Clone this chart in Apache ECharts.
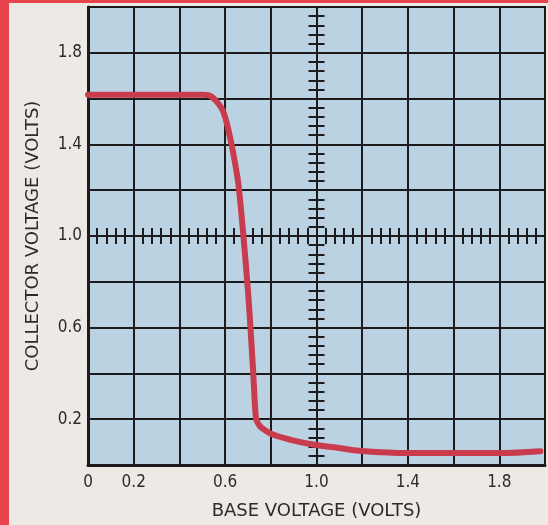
<!DOCTYPE html>
<html>
<head>
<meta charset="utf-8">
<script src="https://cdn.jsdelivr.net/npm/echarts@6/dist/echarts.min.js"></script>
<style>
  html, body { margin: 0; padding: 0; background: #edeae6; }
  #chart { width: 548px; height: 525px; }
</style>
</head>
<body>
<div id="chart"></div>
<script>
// Transfer characteristic: collector voltage versus base voltage
const baseVolts = [0, 0.3, 0.5, 0.53, 0.559, 0.588, 0.603, 0.617, 0.630, 0.646, 0.661, 0.699, 0.722, 0.735, 0.745, 0.757, 0.804, 0.891, 1.0, 1.1, 1.2, 1.4, 1.6, 1.8, 1.98];
const collectorVolts = [1.617, 1.617, 1.617, 1.614, 1.592, 1.552, 1.509, 1.452, 1.391, 1.304, 1.204, 0.774, 0.422, 0.204, 0.180, 0.165, 0.135, 0.109, 0.087, 0.074, 0.061, 0.052, 0.052, 0.052, 0.060];

const xTickLabels = ['0', '0.2', '0.6', '1.0', '1.4', '1.8'];
const yTickLabels = ['0.2', '0.6', '1.0', '1.4', '1.8'];

const ink = '#1c1a1a';
const textColor = '#2e2a2a';
const numFont = "'DejaVu Sans Condensed', 'DejaVu Sans', sans-serif";
const titleFont = "'DejaVu Sans', sans-serif";

function pick(labels) {
  return function (v) {
    const s = v === 0 ? '0' : v.toFixed(1);
    return labels.indexOf(s) >= 0 ? s : '';
  };
}

// Centre cross-hair axes with fine graduations (every 0.04 V), ticks on both sides
function crossAxis(inside, position) {
  return {
    type: 'value', min: -1, max: 1, interval: 0.04, position: position,
    axisLine: { show: true, onZero: true, onZeroAxisIndex: 1, lineStyle: { color: ink, width: 2 } },
    axisTick: { show: true, inside: inside, length: 8, lineStyle: { color: ink, width: 2 } },
    axisLabel: { show: false },
    splitLine: { show: false }
  };
}

const chart = echarts.init(document.getElementById('chart'), null, { renderer: 'canvas' });
chart.setOption({
  backgroundColor: '#edeae6',
  animation: false,
  grid: {
    left: 88, top: 7, right: 1, bottom: 58,
    show: true, backgroundColor: '#bbd2e3', borderColor: ink, borderWidth: 2
  },
  graphic: [
    { type: 'rect', left: 0, top: 0, shape: { width: 9, height: 525 }, style: { fill: '#e9434d' } },
    { type: 'rect', left: 0, top: 0, shape: { width: 548, height: 3 }, style: { fill: '#e9434d' } }
  ],
  xAxis: [
    {
      type: 'value', min: 0, max: 2, interval: 0.2, position: 'bottom',
      name: 'BASE VOLTAGE (VOLTS)', nameLocation: 'middle', nameGap: 37,
      nameTextStyle: { color: textColor, fontFamily: titleFont, fontSize: 18 },
      axisLine: { show: true, onZero: false, lineStyle: { color: ink, width: 3 } },
      axisTick: { show: false },
      axisLabel: { color: textColor, fontFamily: numFont, fontSize: 17, margin: 9, formatter: pick(xTickLabels) },
      splitLine: { show: true, lineStyle: { color: ink, width: 2 } }
    },
    crossAxis(false, 'bottom'),
    crossAxis(true, 'bottom')
  ],
  yAxis: [
    {
      type: 'value', min: 0, max: 2, interval: 0.2, position: 'left',
      name: 'COLLECTOR VOLTAGE (VOLTS)', nameLocation: 'middle', nameGap: 46,
      nameTextStyle: { color: textColor, fontFamily: titleFont, fontSize: 18 },
      axisLine: { show: true, onZero: false, lineStyle: { color: ink, width: 3 } },
      axisTick: { show: false },
      axisLabel: { color: textColor, fontFamily: numFont, fontSize: 17, margin: 6, formatter: pick(yTickLabels) },
      splitLine: { show: true, lineStyle: { color: ink, width: 2 } }
    },
    crossAxis(false, 'left'),
    crossAxis(true, 'left')
  ],
  series: [{
    type: 'line',
    xAxisIndex: 0, yAxisIndex: 0,
    data: baseVolts.map((x, i) => [x, collectorVolts[i]]),
    smooth: 0.35,
    showSymbol: false,
    lineStyle: { color: '#c93c4e', width: 6, cap: 'round', join: 'round' },
    z: 5
  }]
});
</script>
</body>
</html>
